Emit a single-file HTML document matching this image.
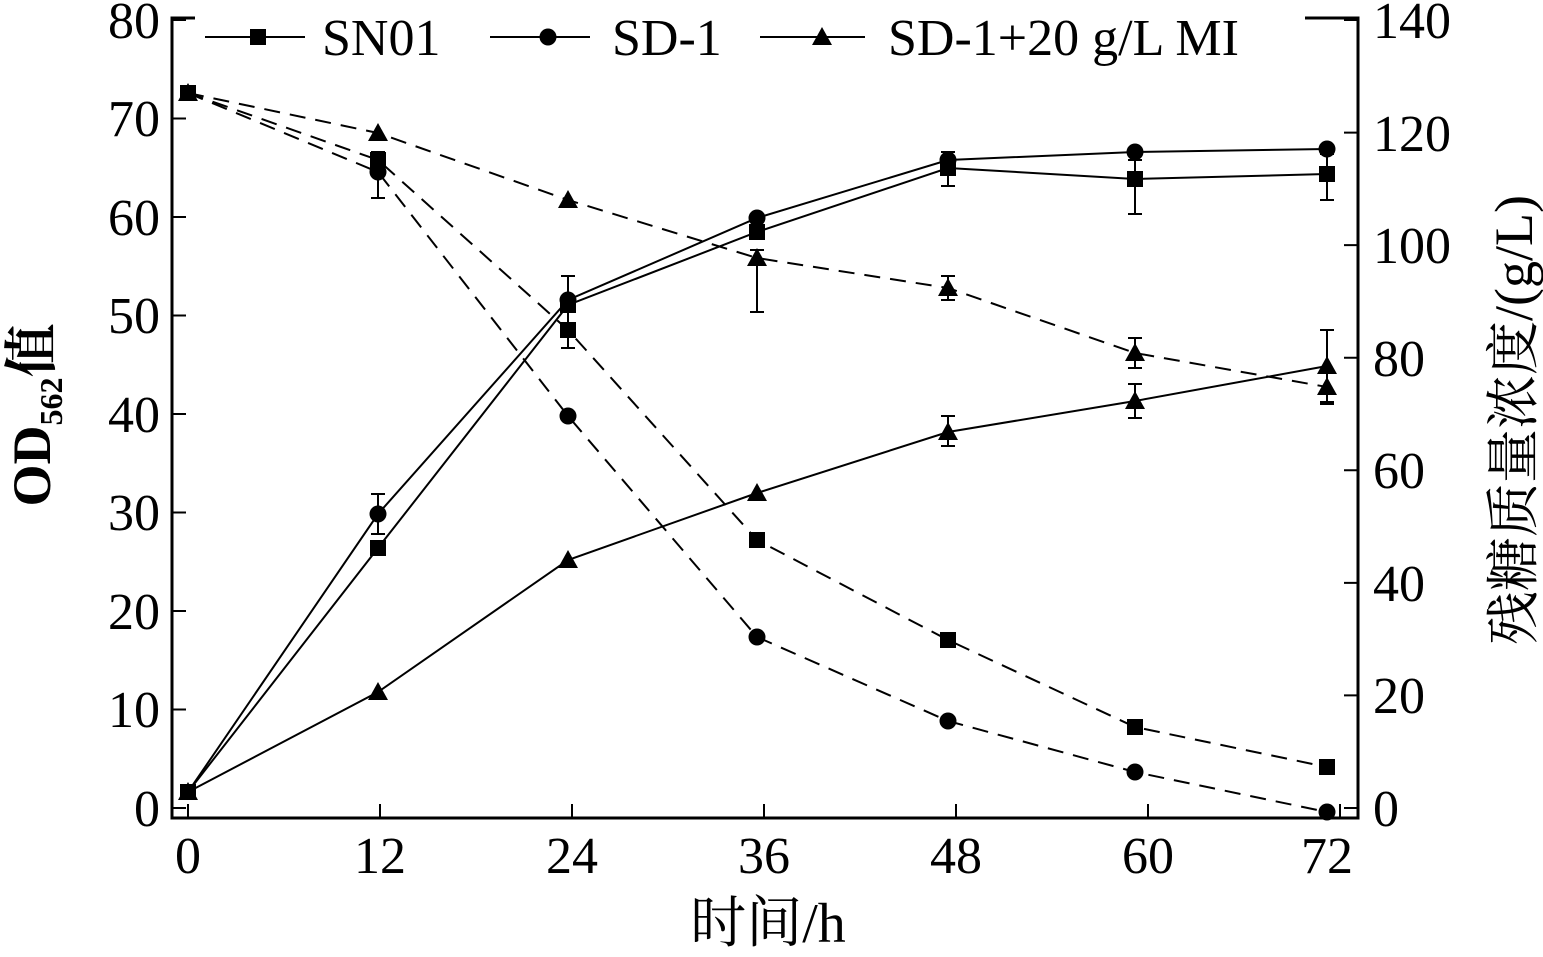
<!DOCTYPE html><html><head><style>body{margin:0;background:#fff}</style></head><body>
<svg width="1543" height="952" xmlns="http://www.w3.org/2000/svg" font-family="Liberation Serif, Noto Serif CJK SC, serif">
<defs>
<g id="sq"><rect x="-8" y="-8" width="16" height="16"/></g>
<g id="ci"><circle r="8.5"/></g>
<g id="tr"><polygon points="0,-10 10,8 -10,8"/></g>
</defs>
<g stroke="#000" fill="none" stroke-width="3">
<rect x="172" y="18" width="1186" height="800"/>
</g>
<g stroke="#000" stroke-width="2">
<path d="M188,818v-14M380,818v-14M572,818v-14M764,818v-14M956,818v-14M1148,818v-14M1340,818v-14"/>
<path d="M172,808h14M172,709.5h14M172,611h14M172,512.5h14M172,414h14M172,315.5h14M172,217h14M172,118.5h14M172,20h14"/>
<path d="M1358,808h-14M1358,695.4h-14M1358,582.9h-14M1358,470.3h-14M1358,357.7h-14M1358,245.1h-14M1358,132.6h-14M1358,20h-14"/>
</g>
<g font-size="52" text-anchor="end">
<text x="160" y="826">0</text><text x="160" y="727">10</text><text x="160" y="629">20</text><text x="160" y="530">30</text><text x="160" y="432">40</text><text x="160" y="333">50</text><text x="160" y="235">60</text><text x="160" y="136">70</text><text x="160" y="38">80</text>
</g>
<g font-size="52" text-anchor="start">
<text x="1373" y="826">0</text><text x="1373" y="713">20</text><text x="1373" y="601">40</text><text x="1373" y="488">60</text><text x="1373" y="376">80</text><text x="1373" y="263">100</text><text x="1373" y="151">120</text><text x="1373" y="38">140</text>
</g>
<g font-size="52" text-anchor="middle">
<text x="188" y="873">0</text><text x="380" y="873">12</text><text x="572" y="873">24</text><text x="764" y="873">36</text><text x="956" y="873">48</text><text x="1148" y="873">60</text><text x="1327" y="873">72</text>
<text x="768" y="942" font-size="56">时间/h</text>
</g>
<text transform="translate(50,415) rotate(-90)" font-size="54" font-weight="bold" text-anchor="middle">OD<tspan font-size="32" dy="12">562</tspan><tspan dy="-12">值</tspan></text>
<text transform="translate(1532,420) rotate(-90)" font-size="54" text-anchor="middle">残糖质量浓度/(g/L)</text>
<g stroke="#000" stroke-width="2" fill="none">
<polyline points="188,792 378,548 568,305 757,232 948,168 1135,179 1327,174"/>
<polyline points="188,792 378,514 568,300 757,218 948,160 1135,152 1327,149"/>
<polyline points="188,792 378,692 568,560 757,493 948,432 1135,401 1327,366"/>
<g stroke-dasharray="16,10">
<polyline points="188,93 378,160 568,330 757,540 948,640 1135,727 1327,767"/>
<polyline points="188,93 378,172 568,416 757,637 948,721 1135,772 1327,812"/>
<polyline points="188,93 378,133 568,200 757,258 948,288 1135,353 1327,387"/>
</g>
<path d="M378,494v40M371,494h14M371,534h14M568,276v50M561,276h14M561,326h14M757,250v62M750,250h14M750,312h14M378,152v46M371,152h14M371,198h14M948,152v34M941,152h14M941,186h14M1135,160v54M1128,160h14M1128,214h14M1327,154v46M1320,154h14M1320,200h14M568,330v18M561,348h14M1327,330v72M1320,330h14M1320,402h14M1135,338v30M1128,338h14M1128,368h14M948,416v30M941,416h14M941,446h14M1135,384v34M1128,384h14M1128,418h14M1327,362v42M1320,404h14M948,276v24M941,276h14M941,300h14"/>
</g>
<g fill="#000">
<use href="#sq" x="188" y="792"/><use href="#sq" x="378" y="548"/><use href="#sq" x="568" y="305"/><use href="#sq" x="757" y="232"/><use href="#sq" x="948" y="168"/><use href="#sq" x="1135" y="179"/><use href="#sq" x="1327" y="174"/>
<use href="#ci" x="378" y="514"/><use href="#ci" x="568" y="300"/><use href="#ci" x="757" y="218"/><use href="#ci" x="948" y="160"/><use href="#ci" x="1135" y="152"/><use href="#ci" x="1327" y="149"/>
<use href="#tr" x="188" y="792"/><use href="#tr" x="378" y="692"/><use href="#tr" x="568" y="560"/><use href="#tr" x="757" y="493"/><use href="#tr" x="948" y="432"/><use href="#tr" x="1135" y="401"/><use href="#tr" x="1327" y="366"/>
<use href="#sq" x="188" y="93"/><use href="#sq" x="378" y="160"/><use href="#sq" x="568" y="330"/><use href="#sq" x="757" y="540"/><use href="#sq" x="948" y="640"/><use href="#sq" x="1135" y="727"/><use href="#sq" x="1327" y="767"/>
<use href="#ci" x="378" y="172"/><use href="#ci" x="568" y="416"/><use href="#ci" x="757" y="637"/><use href="#ci" x="948" y="721"/><use href="#ci" x="1135" y="772"/><use href="#ci" x="1327" y="812"/>
<use href="#tr" x="188" y="93"/><use href="#tr" x="378" y="133"/><use href="#tr" x="568" y="200"/><use href="#tr" x="757" y="258"/><use href="#tr" x="948" y="288"/><use href="#tr" x="1135" y="353"/><use href="#tr" x="1327" y="387"/>
</g>
<rect x="195" y="8" width="1110" height="52" fill="#fff"/>
<g stroke="#000" stroke-width="2"><path d="M205,37h100M490,37h100M760,37h105"/></g>
<g fill="#000"><use href="#sq" x="258" y="37"/><use href="#ci" x="548" y="37"/><use href="#tr" x="822" y="37"/></g>
<g font-size="52"><text x="322" y="55">SN01</text><text x="612" y="55">SD-1</text><text x="888" y="55">SD-1+20 g/L MI</text></g>
</svg>
</body></html>
